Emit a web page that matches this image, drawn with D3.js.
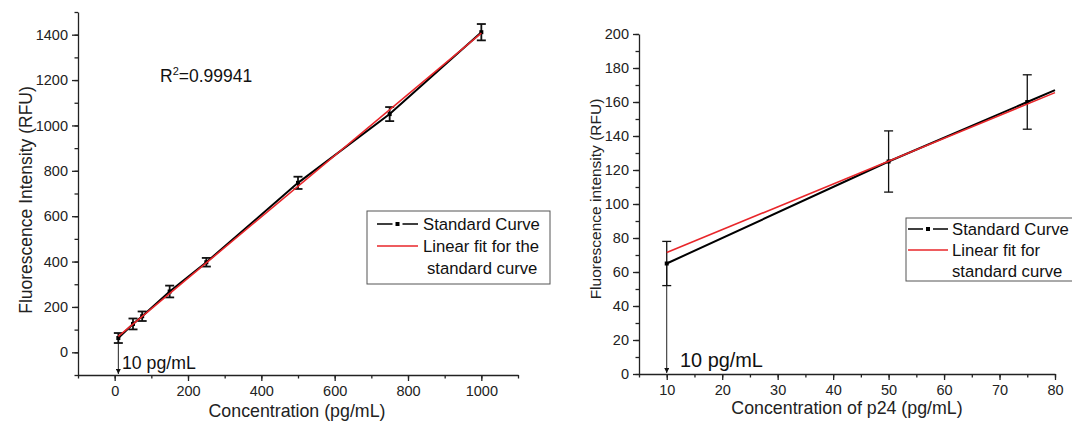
<!DOCTYPE html>
<html>
<head>
<meta charset="utf-8">
<script src="https://cdn.jsdelivr.net/npm/d3@7"></script>
<style>
  body { margin: 0; background: #fff; }
  svg { display: block; font-family: "Liberation Sans", Arial, sans-serif; }
</style>
</head>
<body>
<svg id="chart" width="1072" height="422"></svg>
<script>
// left panel: standard curve 10 - 1000 pg/mL
var leftConc = [10, 50, 75, 150, 250, 500, 750, 1000];
var leftRFU  = [63, 125, 159, 268, 397, 747, 1050, 1411];
var leftErr  = [22, 24, 21, 26, 19, 27, 31, 36];
var leftFit  = {intercept: 57, slope: 1.35};
var leftXTicks = [0, 200, 400, 600, 800, 1000];
var leftYTicks = [0, 200, 400, 600, 800, 1000, 1200, 1400];

// right panel: p24 standard curve 10 - 75 pg/mL
var rightConc = [10, 50, 75, 80];
var rightRFU  = [65, 125, 160, 167];
var rightErr  = [13, 18, 16, null];
var rightFit  = {intercept: 58, slope: 1.344};
var rightXTicks = [10, 20, 30, 40, 50, 60, 70, 80];
var rightYTicks = [0, 20, 40, 60, 80, 100, 120, 140, 160, 180, 200];

var svg = d3.select('#chart');

svg.append('defs').append('marker')
    .attr('id', 'arrow')
    .attr('viewBox', '0 0 10 10')
    .attr('refX', 10).attr('refY', 5)
    .attr('markerWidth', 5).attr('markerHeight', 5)
    .attr('markerUnits', 'userSpaceOnUse')
    .attr('orient', 'auto')
  .append('path')
    .attr('d', 'M0,0 L10,5 L0,10 Z')
    .attr('fill', '#111');

function panel(opt) {
    var x = d3.scaleLinear().domain(opt.xDomain).range(opt.xRange);
    var y = d3.scaleLinear().domain(opt.yDomain).range(opt.yRange);
    var g = svg.append('g');

    // minor ticks
    g.append('g')
        .attr('transform', 'translate(0,' + opt.yRange[0] + ')')
        .call(d3.axisBottom(x).tickValues(d3.range(opt.xDomain[0], opt.xDomain[1] + 0.001, opt.xMinor)).tickSize(3.5).tickFormat(''))
        .call(a => a.select('.domain').remove());
    g.append('g')
        .attr('transform', 'translate(' + opt.xRange[0] + ',0)')
        .call(d3.axisLeft(y).tickValues(d3.range(opt.yDomain[0], opt.yDomain[1] + 0.001, opt.yMinor)).tickSize(3.5).tickFormat(''))
        .call(a => a.select('.domain').remove());

    var xa = g.append('g')
        .attr('transform', 'translate(0,' + opt.yRange[0] + ')')
        .call(d3.axisBottom(x).tickValues(opt.xTicks).tickFormat(d3.format('d')).tickSize(6).tickSizeOuter(0).tickPadding(5));
    var ya = g.append('g')
        .attr('transform', 'translate(' + opt.xRange[0] + ',0)')
        .call(d3.axisLeft(y).tickValues(opt.yTicks).tickFormat(d3.format('d')).tickSize(6).tickSizeOuter(0).tickPadding(4));
    [xa, ya].forEach(a => {
        a.selectAll('text').style('font-size', '14.5px').attr('fill', '#222').style('font-family', 'Liberation Sans, Arial, sans-serif');
        a.selectAll('line,path').attr('stroke', '#222').attr('stroke-width', 1.3);
    });
    g.selectAll('.tick line').attr('stroke', '#222').attr('stroke-width', 1.3);

    // axis titles
    g.append('text')
        .attr('x', opt.xTitlePos[0]).attr('y', opt.xTitlePos[1])
        .attr('text-anchor', 'middle')
        .style('font-size', '17.8px').attr('fill', '#222')
        .text(opt.xTitle);
    g.append('text')
        .attr('transform', 'translate(' + opt.yTitlePos[0] + ',' + opt.yTitlePos[1] + ') rotate(-90)')
        .attr('text-anchor', 'middle')
        .style('font-size', opt.yTitleSize).attr('fill', '#222')
        .text(opt.yTitle);

    // detection limit arrow
    g.append('line')
        .attr('x1', x(opt.conc[0])).attr('x2', x(opt.conc[0]))
        .attr('y1', y(opt.rfu[0])).attr('y2', opt.yRange[0] - 1)
        .attr('stroke', '#222').attr('stroke-width', 1)
        .attr('marker-end', 'url(#arrow)');
    g.append('text')
        .attr('x', opt.lodPos[0]).attr('y', opt.lodPos[1])
        .style('font-size', opt.lodSize).attr('fill', '#111')
        .text('10 pg/mL');

    // error bars
    var pts = opt.conc.map((c, i) => ({c: c, v: opt.rfu[i], e: opt.err[i]}));
    var eb = g.selectAll('g.err').data(pts.filter(d => d.e != null)).enter().append('g').attr('class', 'err');
    eb.append('line')
        .attr('x1', d => x(d.c)).attr('x2', d => x(d.c))
        .attr('y1', d => y(d.v + d.e)).attr('y2', d => y(d.v - d.e))
        .attr('stroke', '#111').attr('stroke-width', opt.errWidth);
    [1, -1].forEach(s => {
        eb.append('line')
            .attr('x1', d => x(d.c) - opt.cap).attr('x2', d => x(d.c) + opt.cap)
            .attr('y1', d => y(d.v + s * d.e)).attr('y2', d => y(d.v + s * d.e))
            .attr('stroke', '#111').attr('stroke-width', opt.errWidth);
    });

    // standard curve
    g.append('path')
        .datum(pts)
        .attr('fill', 'none').attr('stroke', '#000').attr('stroke-width', 2)
        .attr('d', d3.line().x(d => x(d.c)).y(d => y(d.v)));
    g.selectAll('rect.pt').data(pts.filter(d => d.e != null)).enter().append('rect')
        .attr('class', 'pt')
        .attr('x', d => x(d.c) - 2).attr('y', d => y(d.v) - 2)
        .attr('width', 4).attr('height', 4).attr('fill', '#000');

    // linear fit
    var fx = opt.fitExtent;
    g.append('line')
        .attr('x1', x(fx[0])).attr('y1', y(opt.fit.intercept + opt.fit.slope * fx[0]))
        .attr('x2', x(fx[1])).attr('y2', y(opt.fit.intercept + opt.fit.slope * fx[1]))
        .attr('stroke', '#e8262a').attr('stroke-width', 1.6);

    // legend
    var L = opt.legend;
    g.append('rect')
        .attr('x', L.x).attr('y', L.y).attr('width', L.w).attr('height', L.h)
        .attr('fill', '#fff').attr('stroke', '#555').attr('stroke-width', 1);
    g.append('line')
        .attr('x1', L.lx).attr('x2', L.lx + L.lw).attr('y1', L.rows[0] - 6).attr('y2', L.rows[0] - 6)
        .attr('stroke', '#000').attr('stroke-width', 1.6).attr('stroke-dasharray', (L.lw / 2 - 5) + ',10');
    g.append('rect')
        .attr('x', L.lx + L.lw / 2 - 2).attr('y', L.rows[0] - 8).attr('width', 4).attr('height', 4).attr('fill', '#000');
    g.append('line')
        .attr('x1', L.lx).attr('x2', L.lx + L.lw).attr('y1', L.rows[1] - 6).attr('y2', L.rows[1] - 6)
        .attr('stroke', '#e8262a').attr('stroke-width', 1.4);
    L.labels.forEach((t, i) => {
        g.append('text')
            .attr('x', L.tx + (i === 2 ? L.indent : 0)).attr('y', L.rows[i])
            .style('font-size', '16.7px').attr('fill', '#111')
            .text(t);
    });

    return {g: g, x: x, y: y};
}

var left = panel({
    xDomain: [-100, 1100], xRange: [78, 518], xMinor: 100,
    yDomain: [-100, 1500], yRange: [375, 12], yMinor: 100,
    xTicks: leftXTicks, yTicks: leftYTicks,
    conc: leftConc, rfu: leftRFU, err: leftErr, fit: leftFit,
    fitExtent: [10, 1000],
    errWidth: 1.8, cap: 4.5,
    xTitle: 'Concentration (pg/mL)', xTitlePos: [297, 417],
    yTitle: 'Fluorescence Intensity (RFU)', yTitlePos: [32, 200], yTitleSize: '17.5px',
    lodPos: [122, 369], lodSize: '17.7px',
    legend: {x: 367, y: 211, w: 183, h: 73, lx: 377, lw: 41, tx: 423, indent: 4,
             rows: [230, 252, 274],
             labels: ['Standard Curve', 'Linear fit for the', 'standard curve']}
});

left.g.append('text')
    .attr('x', 160).attr('y', 82)
    .style('font-size', '17.5px').attr('fill', '#111')
    .call(t => {
        t.append('tspan').text('R');
        t.append('tspan').attr('dy', -7).style('font-size', '11px').text('2');
        t.append('tspan').attr('dy', 7).text('=0.99941');
    });

var right = panel({
    xDomain: [5, 80], xRange: [639, 1055], xMinor: 5,
    yDomain: [0, 200], yRange: [374, 34], yMinor: 10,
    xTicks: rightXTicks, yTicks: rightYTicks,
    conc: rightConc, rfu: rightRFU, err: rightErr, fit: rightFit,
    fitExtent: [10, 80],
    errWidth: 1.3, cap: 4.5,
    xTitle: 'Concentration of p24 (pg/mL)', xTitlePos: [847, 414],
    yTitle: 'Fluorescence intensity (RFU)', yTitlePos: [601, 199], yTitleSize: '15.5px',
    lodPos: [680, 367], lodSize: '19.9px',
    legend: {x: 906, y: 218, w: 170, h: 63, lx: 908, lw: 40, tx: 952, indent: 0,
             rows: [235, 256, 277],
             labels: ['Standard Curve', 'Linear fit for', 'standard curve']}
});
</script>
</body>
</html>
